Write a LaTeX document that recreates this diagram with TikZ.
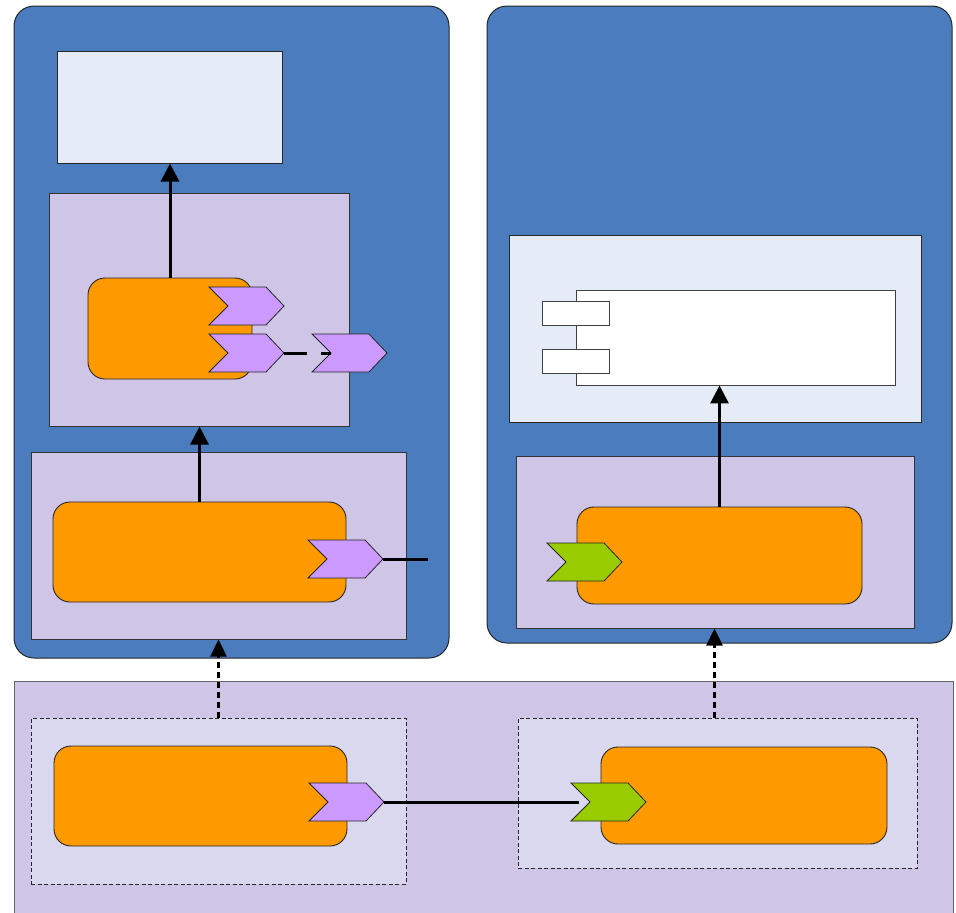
\documentclass[tikz,border=0pt]{standalone}
\usetikzlibrary{arrows.meta,fit}
\definecolor{cblue}{HTML}{4A7CBE}
\definecolor{clav}{HTML}{CFC5E7}
\definecolor{clight}{HTML}{E6ECF7}
\definecolor{corange}{HTML}{FF9900}
\definecolor{cpurp}{HTML}{CC99FF}
\definecolor{cgreen}{HTML}{99CC00}
\definecolor{cgrp}{HTML}{DAD8EF}
\tikzset{
 container/.style={draw=black!85, fill=cblue, rounded corners=20pt, line width=1pt, inner sep=0pt},
 layer/.style={draw=black!80, fill=clav, line width=1pt, inner sep=0pt},
 lightbox/.style={draw=black!85, fill=clight, line width=1pt, inner sep=0pt},
 proc/.style={draw=black!85, fill=corange, rounded corners=17pt, line width=0.9pt, inner sep=0pt},
 comp/.style={draw=black!75, fill=white, line width=0.9pt, inner sep=0pt},
 grp/.style={draw=black!85, fill=cgrp, line width=0.8pt, dash pattern=on 4pt off 2.5pt, inner sep=0pt},
 flow/.style={line width=3pt, -{Triangle[width=18pt,length=18pt]}},
 dflow/.style={line width=2.5pt, dash pattern=on 6pt off 4pt, -{Triangle[width=16pt,length=17pt]}},
 link/.style={line width=3pt},
 chevshape/.style={draw=black!85, line width=0.8pt},
}
\newcommand\chev[4]{% name, x0, ytop, fill
  \draw[chevshape, fill=#4] (#2,#3) -- ++(57,0) -- ++(18,19) -- ++(-18,19) -- ++(-57,0) -- ++(19,-19) -- cycle;
  \coordinate (#1-tip) at (#2+75,#3+19);
  \coordinate (#1-notch) at (#2+19,#3+19);}
\begin{document}
\begin{tikzpicture}[x=1pt,y=-1pt]
\useasboundingbox (0,0) rectangle (956,913);
% containers
\node[container, fit={(14,6) (449,658)}] (L) {};
\node[container, fit={(487,6) (952,643)}] (R) {};
% bottom band
\fill[clav] (14,681) rectangle (953,913);
\draw[black!60, line width=1pt] (14,913) -- (14,681) -- (953,681) -- (953,913);
\coordinate (band) at (14,681);
% left side
\node[lightbox, fit={(57,51) (282,163)}] (LT) {};
\node[layer, fit={(49,193) (349,426)}] (LM) {};
\node[layer, fit={(31,452) (406,639)}] (LB) {};
% right side
\node[lightbox, fit={(509,235) (921,422)}] (RT) {};
\node[comp, fit={(576,290) (895,385)}] (RC) {};
\node[comp, fit={(542,301) (609,325)}] (RC1) {};
\node[comp, fit={(542,349) (609,373)}] (RC2) {};
\node[layer, fit={(516,456) (914,628)}] (RB) {};
% bottom groups
\node[grp, fit={(31,718) (406,884)}] (G1) {};
\node[grp, fit={(518,718) (917,868)}] (G2) {};
% processes
\node[proc, fit={(88,278) (252,379)}] (LMp) {};
\node[proc, fit={(53,502) (346,602)}] (LBp) {};
\node[proc, fit={(577,507) (862,604)}] (RBp) {};
\node[proc, fit={(54,746) (347,846)}] (G1p) {};
\node[proc, fit={(601,747) (887,844)}] (G2p) {};
% arrows
\draw[flow] (LMp.north) -- (LMp.north |- LT.south);
\draw[flow] (LBp.north) -- (LBp.north |- LM.south);
\draw[flow] (RBp.north) -- (RBp.north |- RC.south);
\draw[dflow] (G1.north) -- (G1.north |- LB.south);
\draw[dflow] ([xshift=-3pt]G2.north) -- ([xshift=-3pt]G2.north |- RB.south);
% chevrons
\chev{c1}{209}{287}{cpurp}
\chev{c2}{209}{334}{cpurp}
\chev{c3}{312}{334}{cpurp}
\draw[link, dash pattern=on 23pt off 14pt] (c2-tip) -- (c3-notch);
\chev{c4}{308}{540}{cpurp}
\coordinate (c4end) at (428,559);
\draw[link] (c4-tip) -- (c4end);
\chev{c5}{547}{543}{cgreen}
\chev{c6}{309}{783}{cpurp}
\chev{c7}{571}{783}{cgreen}
\draw[link] (c6-tip) -- ([xshift=-11pt]c7-notch);
\end{tikzpicture}
\end{document}
